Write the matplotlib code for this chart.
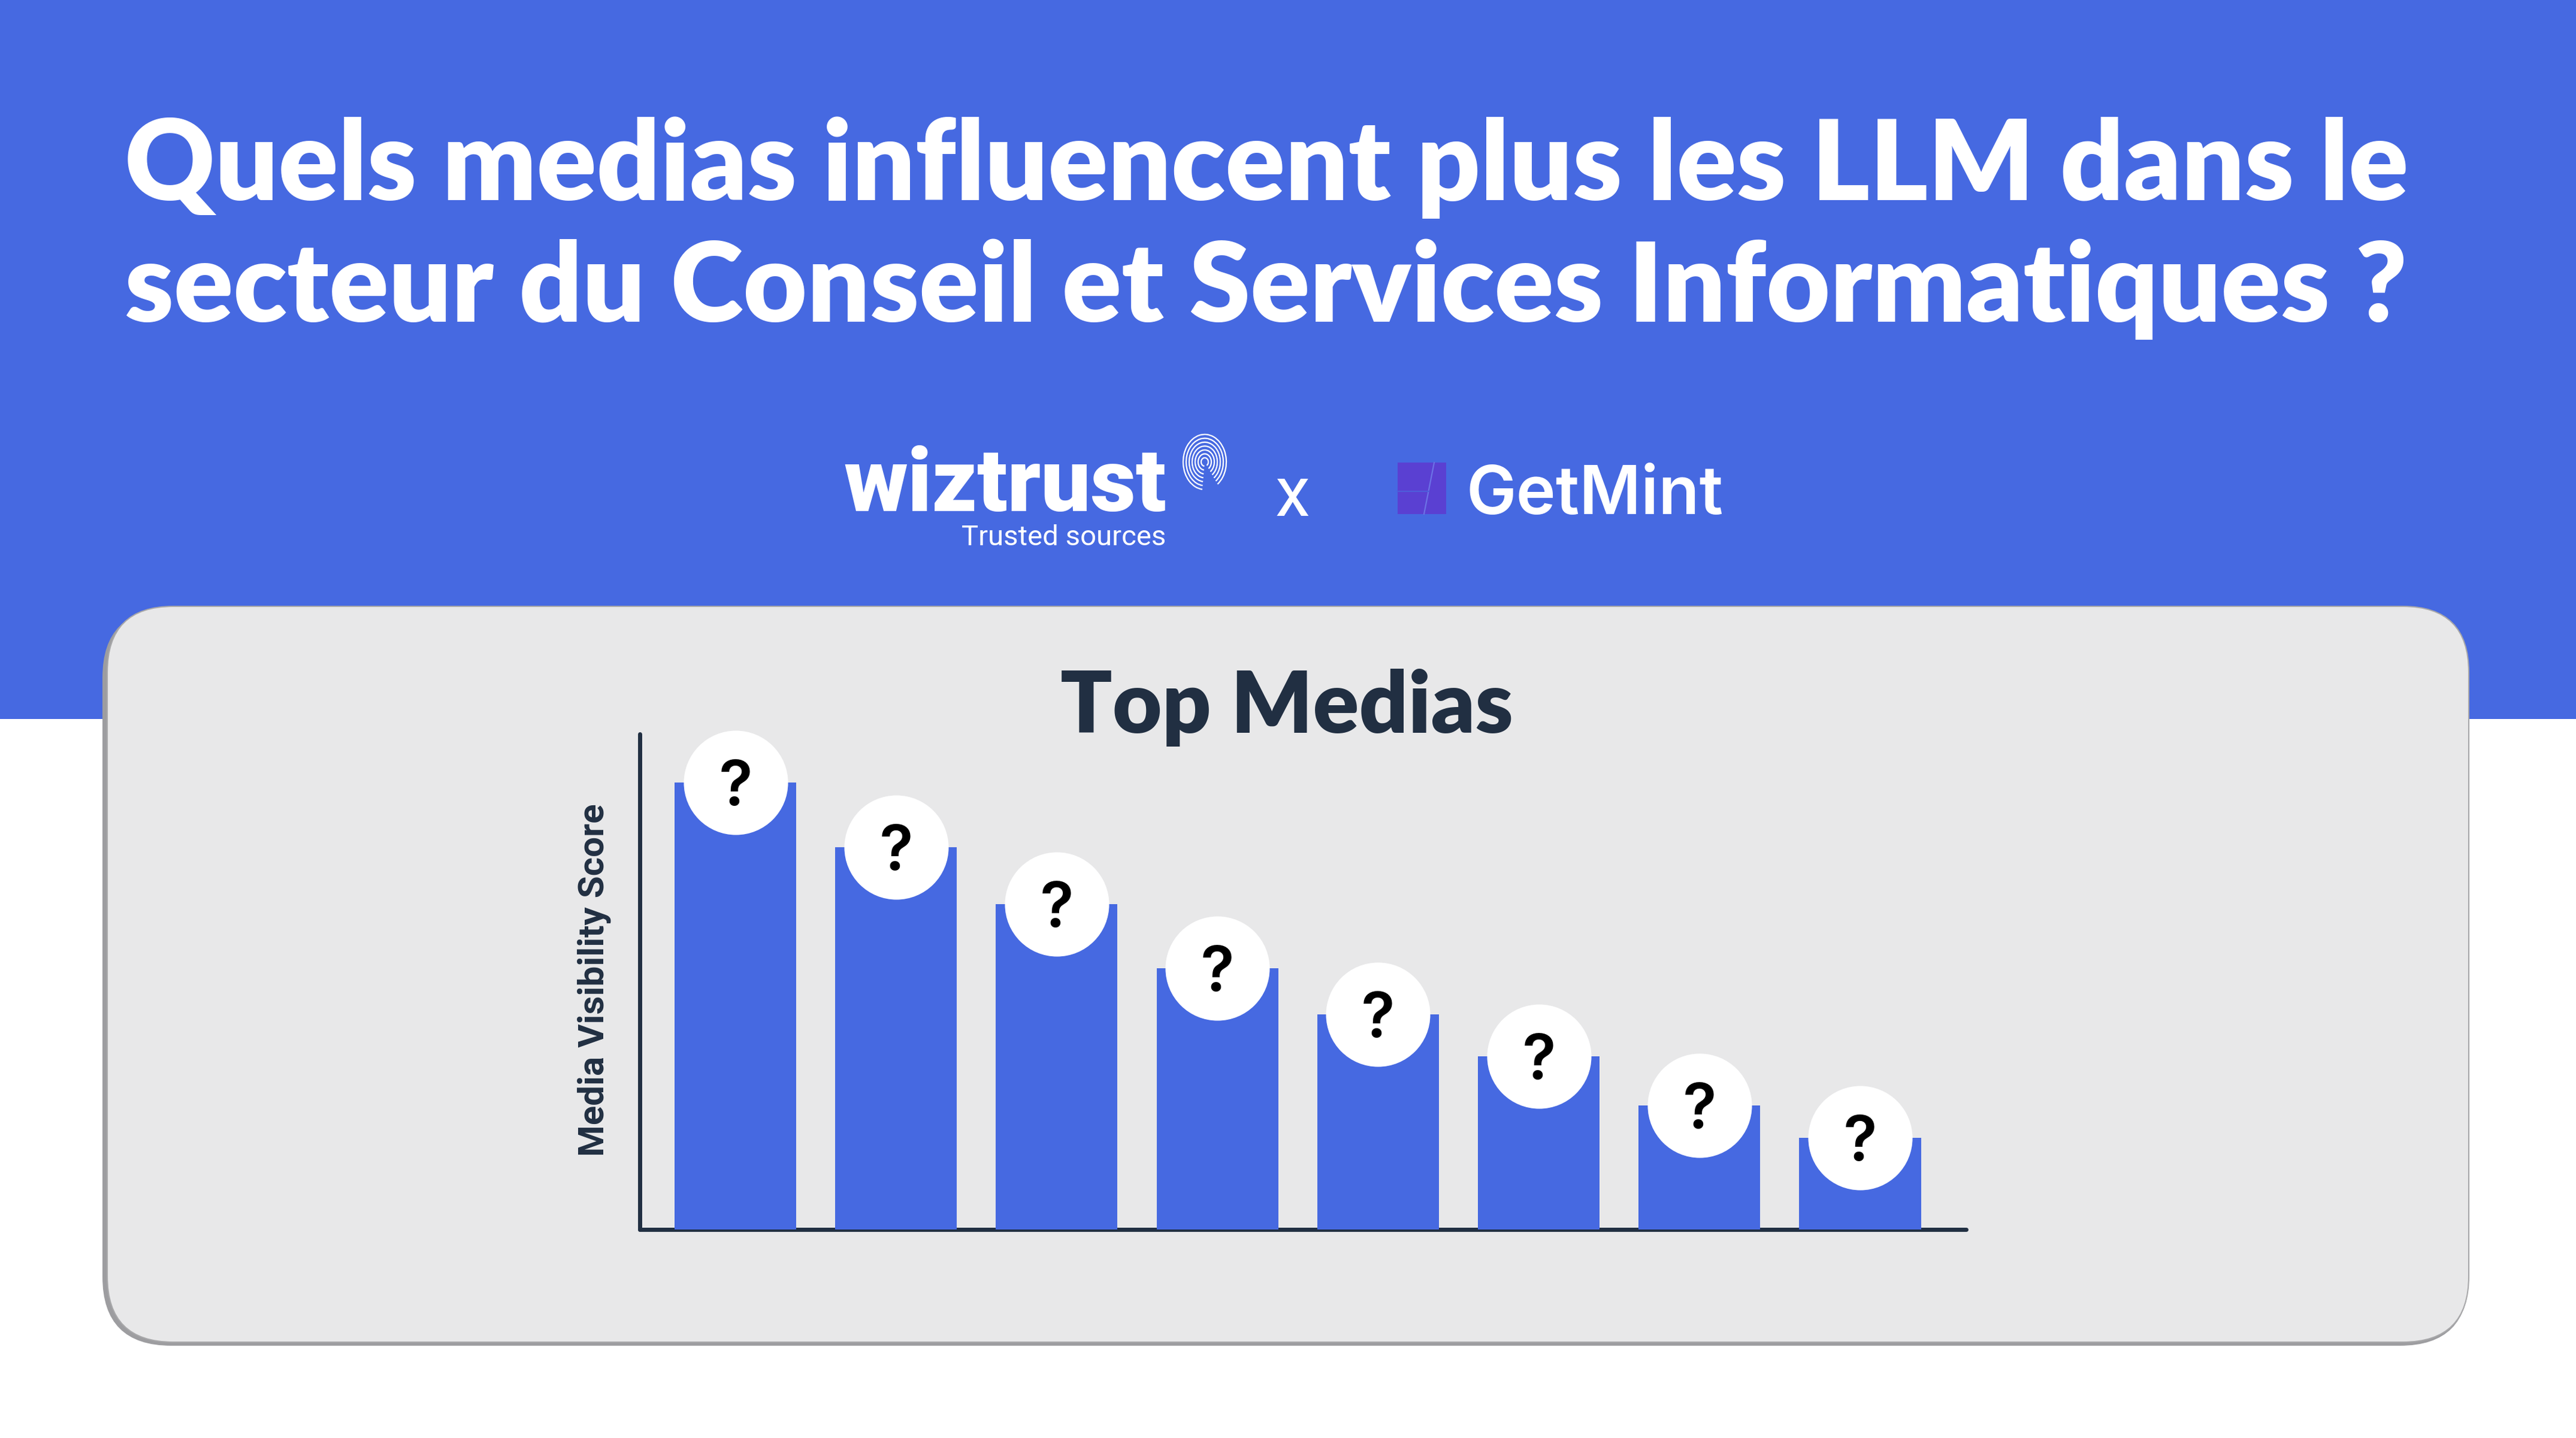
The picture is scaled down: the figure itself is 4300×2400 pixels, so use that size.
import matplotlib
matplotlib.use("Agg")
import matplotlib.pyplot as plt
from matplotlib.patches import Rectangle, FancyBboxPatch, Arc
from matplotlib.transforms import offset_copy

W, H = 4300, 2400
BLUE = "#4669E1"
NAVY = "#212F42"
CARD = "#E8E8E9"

title_lines = ["Quels medias influencent plus les LLM dans le",
               "secteur du Conseil et Services Informatiques ?"]
chart_title = "Top Medias"
y_label = "Media Visibility Score"
medias = ["?", "?", "?", "?", "?", "?", "?", "?"]
scores = [90.2, 77.1, 65.6, 52.7, 43.4, 34.9, 25.0, 18.5]

fig = plt.figure(figsize=(W / 100, H / 100), dpi=100)
fig.patch.set_facecolor("white")
renderer = fig.canvas.get_renderer()


def fit_width(t, width, vertical=False):
    ext = t.get_window_extent(renderer)
    cur = ext.height if vertical else ext.width
    t.set_fontsize(t.get_fontsize() * width / cur)


# background canvas in pixel coords (y down)
bg = fig.add_axes([0, 0, 1, 1])
bg.set_xlim(0, W)
bg.set_ylim(H, 0)
bg.axis("off")
bg.add_patch(Rectangle((0, 0), W, 1200, color=BLUE, lw=0))

# card
bg.add_patch(FancyBboxPatch((171, 1016), 3950, 1230, boxstyle="round,pad=0,rounding_size=115",
                            fc="#9d9da0", ec="none"))
bg.add_patch(FancyBboxPatch((179, 1012), 3942, 1228, boxstyle="round,pad=0,rounding_size=110",
                            fc=CARD, ec="#a8a8aa", lw=1.5))

# title
for txt, base in zip(title_lines, [334, 537]):
    t = bg.text(208, base, txt, color="white", fontsize=130, fontweight="heavy",
                family=["Lato", "DejaVu Sans"], ha="left", va="baseline")
    fit_width(t, 3814)

# logos
t = bg.text(1408, 853, "wiztrust", color="white", fontsize=100, fontweight="heavy",
            family=["Liberation Sans Narrow", "Roboto"], ha="left", va="baseline")
fit_width(t, 539)
t = bg.text(1605, 910, "Trusted sources", color="white", fontsize=30,
            family=["Liberation Sans Narrow", "Roboto"], ha="left", va="baseline")
fit_width(t, 340)
for k in range(7):
    bg.add_patch(Arc((2011, 771), 72 - k * 10, 92 - k * 13, theta1=95, theta2=420,
                     color="white", lw=1.6))
bg.text(2158, 861, "x", color="white", fontsize=84, fontweight="normal",
        family=["Roboto", "DejaVu Sans"], ha="center", va="baseline")
bg.add_patch(Rectangle((2333, 772), 81, 86, color="#5A40D2", lw=0))
bg.plot([2394, 2377], [772, 858], color="#6C72E6", lw=1.6)
bg.plot([2333, 2385], [820, 820], color="#4E5CDB", lw=1.6)
t = bg.text(2447, 858, "GetMint", color="white", fontsize=77, fontweight="semibold",
            family=["Inter", "DejaVu Sans"], ha="left", va="baseline")
fit_width(t, 429)

# chart title
t = bg.text(2148, 1223, chart_title, color=NAVY, fontsize=95, fontweight="heavy",
            family=["Lato", "DejaVu Sans"], ha="center", va="baseline")
fit_width(t, 756)

# bar chart
x0, x1, yb, yt = 1068, 3282, 2052, 1225
ax = fig.add_axes([x0 / W, (H - yb) / H, (x1 - x0) / W, (yb - yt) / H])
ax.set_facecolor("none")
xs = list(range(len(scores)))
ax.bar(xs, scores, width=0.757, color=BLUE, zorder=2)
ax.scatter(xs, scores, s=15700, color="white", linewidths=0, zorder=3, clip_on=False)
qtrans = offset_copy(ax.transData, fig=fig, x=0, y=-38, units="dots")
for i, (m, v) in enumerate(zip(medias, scores)):
    ax.text(i, v, m, transform=qtrans, ha="center", va="baseline", fontsize=75,
            fontweight="semibold", family=["Inter", "DejaVu Sans"], color="black",
            zorder=4, clip_on=False)
ax.set_xlim(-0.595, 7.66)
ax.set_ylim(0, 100)
ax.set_xticks([])
ax.set_yticks([])
for s in ["top", "right"]:
    ax.spines[s].set_visible(False)
for s in ["left", "bottom"]:
    ax.spines[s].set_color(NAVY)
    ax.spines[s].set_linewidth(5)
    ax.spines[s].set_zorder(1.5)
    ax.spines[s].set_capstyle("round")
lab = ax.set_ylabel(y_label, fontsize=42, fontweight="bold", color=NAVY,
                    family=["Roboto", "DejaVu Sans"])
ax.yaxis.set_label_coords(-0.0217, 0.503)
fit_width(lab, 589, vertical=True)

fig.savefig("out.png", dpi=100, facecolor="white")
print("wrote out.png")
